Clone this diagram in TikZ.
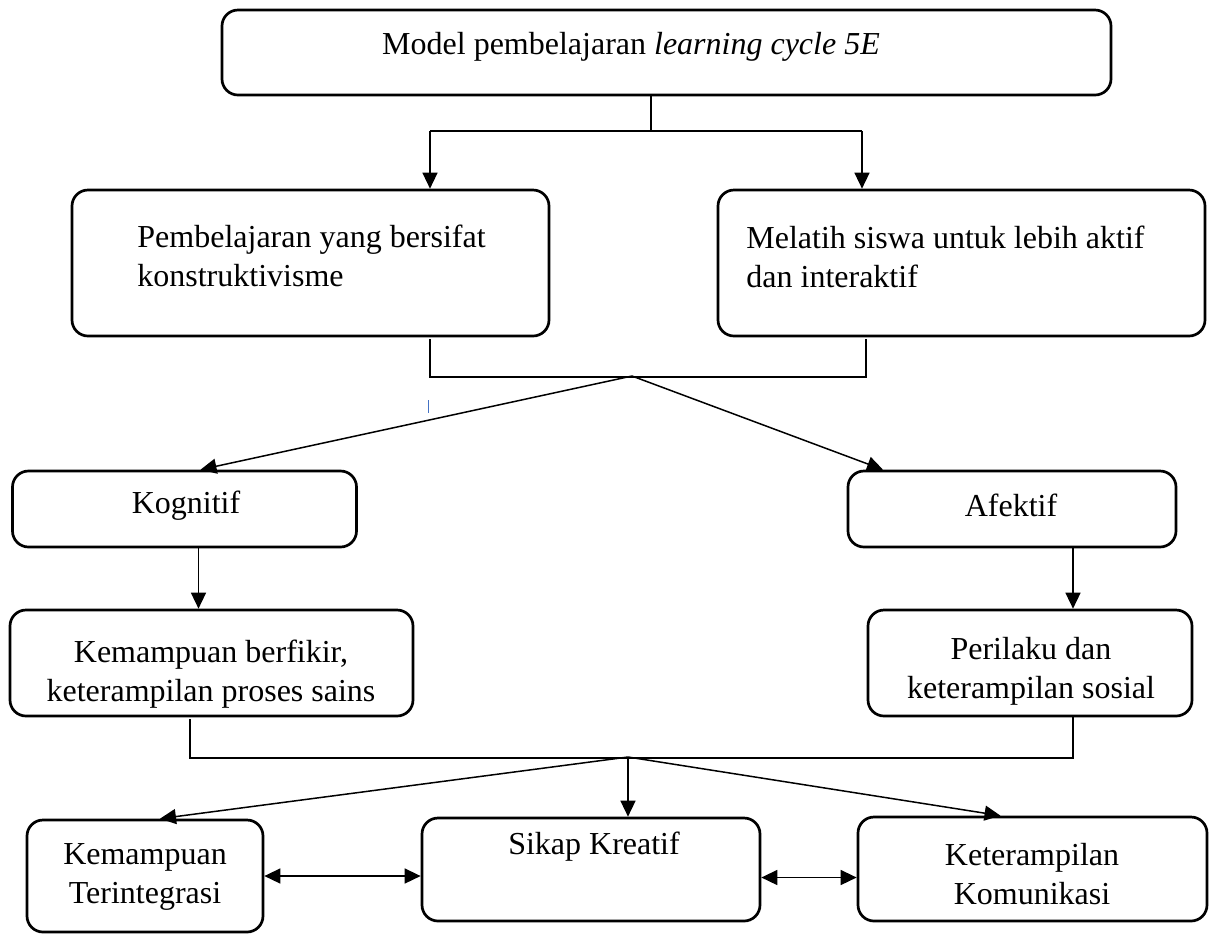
\documentclass[tikz,border=0pt]{standalone}
\usepackage{fontspec}
\setmainfont{Liberation Serif}
\usetikzlibrary{arrows.meta}
\definecolor{cursorblue}{RGB}{68,114,196}
\begin{document}
\begin{tikzpicture}[x=0.5pt,y=-0.5pt,
  box/.style={draw,line width=1.35pt,rounded corners=8pt,inner sep=0pt},
  txt/.style={inner sep=0pt,font=\fontsize{16}{19.5}\selectfont,align=center},
  ltxt/.style={txt,align=left,anchor=west},
  conn/.style={line width=0.75pt},
  arr/.style={conn,-{Triangle[length=8pt,width=7.5pt]}},
  darr/.style={conn,{Triangle[length=8pt,width=7.5pt]}-{Triangle[length=8pt,width=7.5pt]}}]
\useasboundingbox (0,0) rectangle (1221,934);

% boxes
\node[box,minimum width=444.5pt,minimum height=42.5pt] (top) at (666.5,52.5) {};
\node[box,minimum width=238.5pt,minimum height=73pt] (lmid) at (310.5,263) {};
\node[box,minimum width=243.5pt,minimum height=73pt] (rmid) at (961.5,263) {};
\node[box,minimum width=172pt,minimum height=38pt] (kog) at (184.5,509) {};
\node[box,minimum width=164pt,minimum height=38pt] (afe) at (1012,509) {};
\node[box,minimum width=201.5pt,minimum height=53pt] (kb) at (211.5,663) {};
\node[box,minimum width=162pt,minimum height=53pt] (per) at (1030,663) {};
\node[box,minimum width=118pt,minimum height=56pt] (kt) at (145,876) {};
\node[box,minimum width=169pt,minimum height=51.5pt] (sk) at (591,869.5) {};
\node[box,minimum width=174.5pt,minimum height=52pt] (kk) at (1032.5,869) {};

% texts
\node[txt] (topt) at (631,47) {Model pembelajaran \textit{learning cycle 5E}};
\node[ltxt] (lmidt) at (137,256) {Pembelajaran yang bersifat\\konstruktivisme};
\node[ltxt] (rmidt) at (746,257) {Melatih siswa untuk lebih aktif\\dan interaktif};
\node[txt] (kogt) at (186,506) {Kognitif};
\node[txt] (afet) at (1011,505) {Afektif};
\node[txt] (kbt) at (211,674) {Kemampuan berfikir,\\keterampilan proses sains};
\node[txt] (pert) at (1031,671) {Perilaku dan\\keterampilan sosial};
\node[txt] (ktt) at (145,877) {Kemampuan\\Terintegrasi};
\node[txt] (skt) at (594,847) {Sikap Kreatif};
\node[txt] (kkt) at (1032,874) {Keterampilan\\Komunikasi};

% level 1 connectors
\coordinate (t1) at (651,131);
\coordinate (ja) at (430,131);
\coordinate (jb) at (862,131);
\draw[conn] (top.south -| t1) -- (t1);
\draw[conn] (ja) -- (jb);
\draw[arr] (ja) -- (ja |- lmid.north);
\draw[arr] (jb) -- (jb |- rmid.north);

% level 2 connectors
\coordinate (ka) at (430,377);
\coordinate (kc) at (866,377);
\coordinate (k0) at (632,376);
\draw[conn] ([yshift=-1pt]lmid.south -| ka) -- (ka) -- (kc) -- ([yshift=-1pt]rmid.south -| kc);
\draw[arr] (k0) -- ([xshift=8pt]kog.north);
\draw[arr] (k0) -- ([xshift=-64.5pt]afe.north);
\draw[cursorblue,line width=0.5pt] (428,400) -- (428,413);

% level 3 connectors
\draw[arr] ([xshift=7pt]kog.south) -- ([xshift=7pt]kog.south |- kb.north);
\draw[arr] ([xshift=30.5pt]afe.south) -- ([xshift=30.5pt]afe.south |- per.north);

% level 4 connectors
\coordinate (ma) at (190,758);
\coordinate (mc) at (1073,758);
\coordinate (m0) at (628,757);
\draw[conn] ([yshift=-1pt]kb.south -| ma) -- (ma) -- (mc) -- (per.south -| mc);
\draw[arr] (m0) -- ([xshift=7.5pt]kt.north);
\draw[arr] (m0) -- (m0 |- sk.north);
\draw[arr] (m0) -- ([xshift=-16pt]kk.north);

% double arrows
\draw[darr] (kt.east) -- (kt.east -| sk.west);
\draw[darr] ([yshift=-4pt]sk.east) -- ([yshift=-4pt]sk.east -| kk.west);
\end{tikzpicture}
\end{document}
